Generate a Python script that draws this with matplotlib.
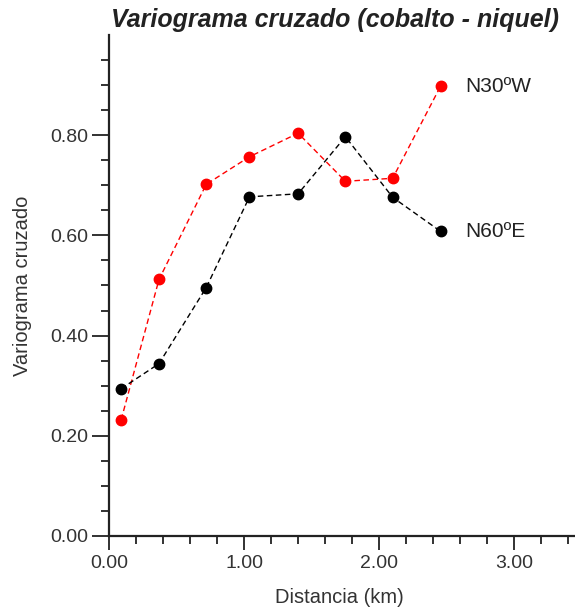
import matplotlib.pyplot as plt
from matplotlib.ticker import MultipleLocator, FixedLocator, FormatStrFormatter

plt.rcParams['font.family'] = ['Liberation Sans', 'DejaVu Sans']

# Distancias de los lags (km)
distancia = [0.09, 0.37, 0.72, 1.04, 1.40, 1.75, 2.10, 2.455]
# Variograma cruzado por dirección
n30w = [0.232, 0.512, 0.702, 0.757, 0.804, 0.708, 0.714, 0.898]
n60e = [0.294, 0.344, 0.496, 0.677, 0.683, 0.797, 0.676, 0.608]

y_major = [0.0, 0.2, 0.4, 0.6, 0.8]
y_minor = [i * 0.05 for i in range(20)]

fig = plt.figure(figsize=(5.75, 6.12), dpi=100, facecolor='white')
ax = fig.add_axes([0.1896, 0.1242, 0.8104, 0.8186])

ax.plot(distancia, n30w, color='red', linestyle='--', dashes=(4, 2.5), linewidth=1,
        marker='o', markersize=7.5, markeredgecolor='red', clip_on=False)
ax.plot(distancia, n60e, color='black', linestyle='--', dashes=(4, 2.5), linewidth=1,
        marker='o', markersize=7.5, markeredgecolor='black', clip_on=False)

ax.text(2.64, n30w[-1], 'N30ºW', fontsize=15, va='center', ha='left', color='#222222')
ax.text(2.64, n60e[-1], 'N60ºE', fontsize=15, va='center', ha='left', color='#222222')

ax.set_xlim(0, 3.45)
ax.set_ylim(0, 1.0)
ax.xaxis.set_major_locator(MultipleLocator(1.0))
ax.xaxis.set_minor_locator(MultipleLocator(0.2))
ax.yaxis.set_major_locator(FixedLocator(y_major))
ax.yaxis.set_minor_locator(FixedLocator(y_minor))
ax.xaxis.set_major_formatter(FormatStrFormatter('%.2f'))
ax.yaxis.set_major_formatter(FormatStrFormatter('%.2f'))

for s in ['top', 'right']:
    ax.spines[s].set_visible(False)
for s in ['left', 'bottom']:
    ax.spines[s].set_linewidth(1.6)
    ax.spines[s].set_color('#222222')

ax.tick_params(axis='both', which='major', width=1.3, color='#222222',
               labelsize=14, labelcolor='#333333')
ax.tick_params(axis='both', which='minor', length=6, width=1.3, color='#222222')
ax.tick_params(axis='y', which='major', length=12, pad=3)
ax.tick_params(axis='x', which='major', length=10, pad=4)

ax.set_xlabel('Distancia (km)', fontsize=14.5, color='#333333')
ax.set_ylabel('Variograma cruzado', fontsize=14.5, color='#333333')
ax.xaxis.set_label_coords(0.494, -0.104)
ax.yaxis.set_label_coords(-0.165, 0.5)

fig.text(0.582, 0.967, 'Variograma cruzado (cobalto - niquel)', fontsize=18,
         fontweight='bold', fontstyle='italic', ha='center', va='center', color='#222222')

fig.savefig('out.png', dpi=100, facecolor='white')
